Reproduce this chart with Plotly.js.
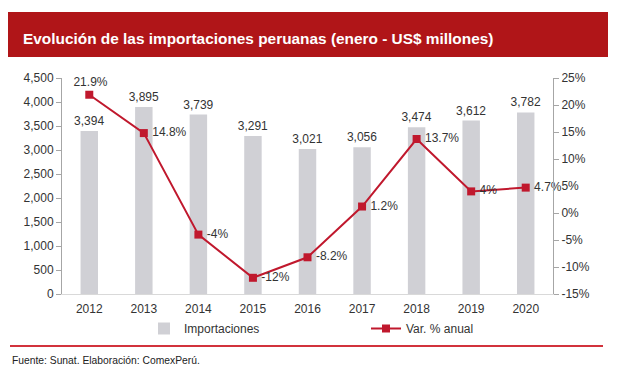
<!DOCTYPE html>
<html>
<head>
<meta charset="utf-8">
<script src="https://cdn.plot.ly/plotly-3.0.1.min.js"></script>
<style>html,body{margin:0;padding:0;background:#fff;}#chart{width:619px;height:375px;}</style>
</head>
<body>
<div id="chart"></div>
<script>
const years = ['2012','2013','2014','2015','2016','2017','2018','2019','2020'];
const importaciones = [3394, 3895, 3739, 3291, 3021, 3056, 3474, 3612, 3782];
const variacion = [21.9, 14.8, -4, -12, -8.2, 1.2, 13.7, 4, 4.7];
const varPositions = ['top center','middle right','middle right','middle right','middle right','middle right','middle right','middle right','middle right'];
const pctTickVals = [-15, -10, -5, 0, 5, 10, 15, 20, 25];
const pctTickText = ['-15%', '-10%', '-5%', '0%', '5%', '10%', '15%', '20%', '25%'];

const titleText = 'Evolución de las importaciones peruanas (enero - US$ millones)';
const sourceText = 'Fuente: Sunat. Elaboración: ComexPerú.';

const W = 619, H = 375;
const mL = 62, mR = 66, mT = 78, mB = 81;
const pw = W - mL - mR, ph = H - mT - mB;
const px = x => (x - mL) / pw;
const py = y => (H - mB - y) / ph;

const font = 'Liberation Sans, Arial, sans-serif';

const traces = [
  {
    type: 'bar', name: 'Importaciones', x: years, y: importaciones,
    marker: {color: '#D0D0D5'}, width: 0.32,
    text: importaciones.map(v => v.toLocaleString('en-US')),
    textposition: 'outside', cliponaxis: false, constraintext: 'none',
    textfont: {family: font, size: 12, color: '#333'},
    hoverinfo: 'skip'
  },
  {
    type: 'scatter', mode: 'lines+markers+text', name: 'Var. % anual',
    x: years, y: variacion, yaxis: 'y2',
    line: {color: '#C0182D', width: 2},
    marker: {color: '#C0182D', symbol: 'square', size: 8},
    text: variacion.map(v => '\u2009' + v + '%'),
    textposition: varPositions, cliponaxis: false,
    textfont: {family: font, size: 12, color: '#333'},
    hoverinfo: 'skip'
  }
];

const layout = {
  width: W, height: H,
  margin: {l: mL, r: mR, t: mT, b: mB, pad: 0},
  paper_bgcolor: '#fff', plot_bgcolor: '#fff',
  font: {family: font, size: 12, color: '#333'},
  showlegend: true,
  xaxis: {
    type: 'category', range: [-0.5, 8.5],
    showline: true, linecolor: '#D9D9D9', linewidth: 1,
    ticks: '', showgrid: false, zeroline: false,
    ticklabelstandoff: 4,
    tickfont: {family: font, size: 12, color: '#333'}
  },
  yaxis: {
    range: [0, 4500], dtick: 500, tickformat: ',d',
    showline: true, linecolor: '#A6A6A6', linewidth: 1,
    ticks: 'outside', ticklen: 5, tickcolor: '#A6A6A6',
    showgrid: false, zeroline: false,
    tickfont: {family: font, size: 12, color: '#333'}
  },
  yaxis2: {
    overlaying: 'y', side: 'right',
    range: [-15, 25], tickmode: 'array', tickvals: pctTickVals, ticktext: pctTickText,
    showline: true, linecolor: '#A6A6A6', linewidth: 1,
    ticks: 'outside', ticklen: 5, tickcolor: '#A6A6A6',
    showgrid: false, zeroline: false,
    tickfont: {family: font, size: 12, color: '#333'}
  },
  legend: {
    orientation: 'h', x: px(144), xanchor: 'left',
    y: py(314), yanchor: 'top',
    entrywidth: 177, entrywidthmode: 'pixels',
    font: {family: font, size: 12, color: '#333'},
    bgcolor: 'rgba(0,0,0,0)'
  },
  shapes: [
    {type: 'rect', xref: 'paper', yref: 'paper',
     x0: px(8), x1: px(608), y0: py(57), y1: py(12),
     fillcolor: '#B01518', line: {width: 0}, layer: 'below'},
    {type: 'line', xref: 'paper', yref: 'paper',
     x0: px(10), x1: px(603), y0: py(346), y1: py(346),
     line: {color: '#D2323C', width: 2}}
  ],
  annotations: [
    {text: '<b>' + titleText + '</b>', xref: 'paper', yref: 'paper',
     x: px(21), y: py(38), xanchor: 'left', yanchor: 'middle', showarrow: false,
     font: {family: font, size: 15.4, color: '#fff'}},
    {text: sourceText, xref: 'paper', yref: 'paper',
     x: px(10), y: py(360), xanchor: 'left', yanchor: 'middle', showarrow: false,
     font: {family: font, size: 10.3, color: '#222'}}
  ]
};

Plotly.newPlot('chart', traces, layout, {displayModeBar: false, staticPlot: true});
</script>
</body>
</html>
